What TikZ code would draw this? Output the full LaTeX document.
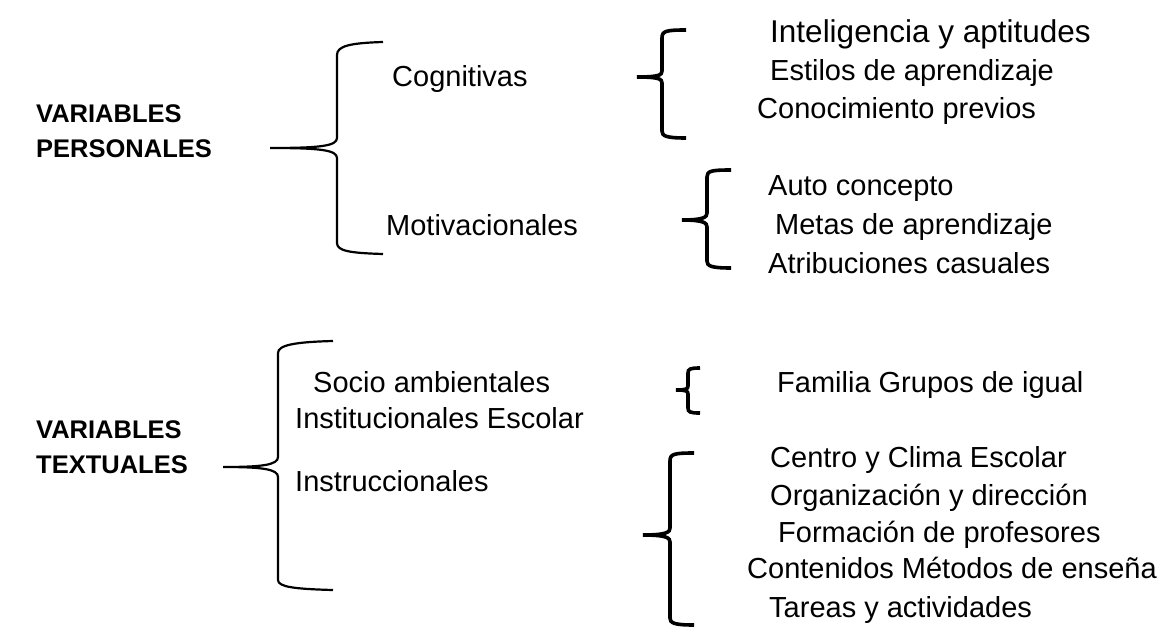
\documentclass[tikz,border=0pt]{standalone}
\usepackage{fontspec}
\setmainfont{Liberation Sans}
\begin{document}
\begin{tikzpicture}[x=1pt,y=-1pt,
	bigbrace/.style={black,line width=2.2pt},
	smallbrace/.style={black,line width=3.6pt},
	item/.style={anchor=base west,inner sep=0pt,font=\fontsize{29}{34}\selectfont},
	head/.style={anchor=base west,inner sep=0pt,font=\fontsize{25.5}{30}\selectfont\bfseries}]
			\useasboundingbox (0,0) rectangle (1161,629);
			% variables personales
			\node [head] (pA) at (36,122) {VARIABLES};
			\node [head] (pB) at (36,157) {PERSONALES};
			\draw [bigbrace] (383,42) .. controls (350,43) and (337,46) .. (337,55) -- (337,138)
				.. controls (337,146) and (320,148) .. (270,148)
				.. controls (320,148) and (337,150) .. (337,158) -- (337,243)
				.. controls (337,251) and (350,253) .. (383,254);
			\node [item] (cog) at (392,86) {Cognitivas};
			\node [item] (mot) at (386,235) {Motivacionales};
			\draw [smallbrace] (686,30) .. controls (666,30) and (662,31) .. (662,38) -- (662,71)
				.. controls (662,75) and (659,77) .. (637,77)
				.. controls (659,77) and (662,79) .. (662,83) -- (662,131)
				.. controls (662,136) and (666,138) .. (686,138);
			\node [item,font=\fontsize{31.5}{36}\selectfont] (c1) at (770,42) {Inteligencia y aptitudes};
			\node [item] (c2) at (770,80) {Estilos de aprendizaje};
			\node [item] (c3) at (757,118) {Conocimiento previos};
			\draw [smallbrace] (731,170) .. controls (711,170) and (707,171) .. (707,177) -- (707,213)
				.. controls (707,217) and (704,220) .. (682,220)
				.. controls (704,220) and (707,223) .. (707,227) -- (707,261)
				.. controls (707,266) and (711,268) .. (731,268);
			\node [item] (m1) at (768,195) {Auto concepto};
			\node [item] (m2) at (775,234) {Metas de aprendizaje};
			\node [item] (m3) at (768,273) {Atribuciones casuales};
			% variables textuales
			\node [head] (tA) at (36,438) {VARIABLES};
			\node [head] (tB) at (36,473) {TEXTUALES};
			\draw [bigbrace] (333,341) .. controls (295,342) and (278,345) .. (278,353) -- (278,457)
				.. controls (278,465) and (262,467) .. (223,467)
				.. controls (262,467) and (278,469) .. (278,477) -- (278,580)
				.. controls (278,587) and (295,589) .. (333,590);
			\node [item] (soc) at (313,392) {Socio ambientales};
			\node [item] (ins) at (295,428) {Institucionales Escolar};
			\node [item] (inst) at (295,491) {Instruccionales};
			\draw [smallbrace] (700,368) .. controls (690,368) and (688,369) .. (688,373) -- (688,386)
				.. controls (688,389) and (686,390) .. (676,390)
				.. controls (686,390) and (688,391) .. (688,394) -- (688,408)
				.. controls (688,412) and (690,413) .. (700,413);
			\node [item] (s1) at (777,392) {Familia Grupos de igual};
			\draw [smallbrace] (694,453) .. controls (674,453) and (670,454) .. (670,461) -- (670,528)
				.. controls (670,532) and (667,535) .. (643,535)
				.. controls (667,535) and (670,538) .. (670,542) -- (670,618)
				.. controls (670,623) and (674,625) .. (694,625);
			\node [item] (i1) at (770,467) {Centro y Clima Escolar};
			\node [item] (i2) at (770,505) {Organización y dirección};
			\node [item] (i3) at (778,542) {Formación de profesores};
			\node [item] (i4) at (747,578) {Contenidos Métodos de enseña};
			\node [item] (i5) at (769,617) {Tareas y actividades};
\end{tikzpicture}
\end{document}
